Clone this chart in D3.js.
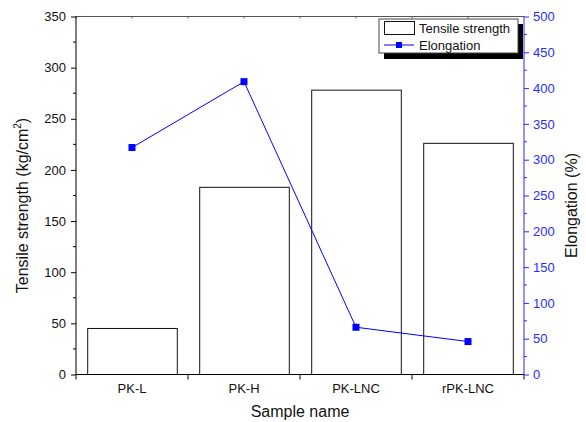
<!DOCTYPE html>
<html>
<head>
<meta charset="utf-8">
<script src="https://cdn.jsdelivr.net/npm/d3@7"></script>
<style>
  body { margin: 0; background: #fff; }
  svg { font-family: "Liberation Sans", Arial, sans-serif; }
</style>
</head>
<body>
<svg id="svg" width="586" height="422"></svg>
<script>
// values
var samples = ["PK-L", "PK-H", "PK-LNC", "rPK-LNC"];
var tensile = [45, 183, 278, 226];
var elongation = [317, 409, 66, 46];
var leftTicks = [0, 50, 100, 150, 200, 250, 300, 350];
var rightTicks = [0, 50, 100, 150, 200, 250, 300, 350, 400, 450, 500];

var blue = "#0000ff";
var axisBlue = "#2a2aff";

var plotLeft = 76, plotRight = 524, plotTop = 16.5, plotBottom = 374.5;

var svg = d3.select("#svg");

var x = d3.scaleBand().domain(samples).range([plotLeft, plotRight]).paddingInner(0).paddingOuter(0);
var yL = d3.scaleLinear().domain([0, 350]).range([plotBottom, plotTop]);
var yR = d3.scaleLinear().domain([0, 500]).range([plotBottom, plotTop]);

// bars
var barW = x.bandwidth() * 0.8;
svg.append("g").selectAll("rect")
    .data(samples)
    .enter()
    .append("rect")
    .attr("x", function(d) { return x(d) + (x.bandwidth() - barW) / 2 + 0.5; })
    .attr("y", function(d, i) { return yL(tensile[i]); })
    .attr("width", barW)
    .attr("height", function(d, i) { return plotBottom - yL(tensile[i]); })
    .attr("fill", "none")
    .attr("stroke", "#111")
    .attr("stroke-width", 1);

// top frame line with small ticks
svg.append("line")
    .attr("x1", plotLeft).attr("x2", plotRight)
    .attr("y1", plotTop).attr("y2", plotTop)
    .attr("stroke", "#555").attr("stroke-width", 1);
var topTicks = [];
samples.forEach(function(s) { topTicks.push(x(s)); topTicks.push(x(s) + x.bandwidth() / 2); });
svg.append("g").selectAll("line")
    .data(topTicks)
    .enter()
    .append("line")
    .attr("x1", function(d) { return d; }).attr("x2", function(d) { return d; })
    .attr("y1", plotTop).attr("y2", plotTop + 2)
    .attr("stroke", "#555");

// bottom axis
var xAxis = d3.axisBottom(x).tickSize(0).tickPadding(9);
var gx = svg.append("g")
    .attr("transform", "translate(0," + plotBottom + ")")
    .call(xAxis);
gx.select(".domain").attr("stroke", "#000").attr("d", "M" + plotLeft + ",0H" + plotRight);
gx.selectAll("text").attr("font-size", "13px").attr("fill", "#111");
var bounds = samples.map(function(s) { return x(s); }).concat([plotRight]);
gx.selectAll(".bnd")
    .data(bounds)
    .enter()
    .append("line")
    .attr("class", "bnd")
    .attr("x1", function(d) { return d; }).attr("x2", function(d) { return d; })
    .attr("y1", 0).attr("y2", 5)
    .attr("stroke", "#000");

// left axis
var yAxisL = d3.axisLeft(yL).tickValues(leftTicks).tickSize(5).tickPadding(5);
var gl = svg.append("g")
    .attr("transform", "translate(" + plotLeft + ",0)")
    .call(yAxisL);
gl.select(".domain").attr("d", "M0," + plotTop + "V" + plotBottom).attr("stroke", "#000");
gl.selectAll("text").attr("font-size", "13px").attr("fill", "#111");
gl.selectAll(".minor")
    .data(leftTicks.slice(0, -1).map(function(v) { return v + 25; }))
    .enter()
    .append("line")
    .attr("class", "minor")
    .attr("x1", 0).attr("x2", -3)
    .attr("y1", function(d) { return yL(d); }).attr("y2", function(d) { return yL(d); })
    .attr("stroke", "#000");

// right axis
var yAxisR = d3.axisRight(yR).tickValues(rightTicks).tickSize(5).tickPadding(4);
var gr = svg.append("g")
    .attr("transform", "translate(" + plotRight + ",0)")
    .call(yAxisR);
gr.select(".domain").attr("d", "M0," + plotTop + "V" + plotBottom).attr("stroke", axisBlue);
gr.selectAll(".tick line").attr("stroke", axisBlue);
gr.selectAll("text").attr("font-size", "13px").attr("fill", axisBlue);
gr.selectAll(".minor")
    .data(rightTicks.slice(0, -1).map(function(v) { return v + 25; }))
    .enter()
    .append("line")
    .attr("class", "minor")
    .attr("x1", 0).attr("x2", 3)
    .attr("y1", function(d) { return yR(d); }).attr("y2", function(d) { return yR(d); })
    .attr("stroke", axisBlue);

// elongation line
var line = d3.line()
    .x(function(d, i) { return x(samples[i]) + x.bandwidth() / 2; })
    .y(function(d) { return yR(d); });
svg.append("path")
    .datum(elongation)
    .attr("d", line)
    .attr("fill", "none")
    .attr("stroke", blue)
    .attr("stroke-width", 1);
svg.append("g").selectAll("rect")
    .data(elongation)
    .enter()
    .append("rect")
    .attr("x", function(d, i) { return x(samples[i]) + x.bandwidth() / 2 - 3.5; })
    .attr("y", function(d) { return yR(d) - 3.5; })
    .attr("width", 7)
    .attr("height", 7)
    .attr("fill", blue);

// axis titles
svg.append("text")
    .text("Sample name")
    .attr("x", (plotLeft + plotRight) / 2)
    .attr("y", 417)
    .attr("text-anchor", "middle")
    .attr("font-size", "16px")
    .attr("fill", "#111");

var tl = svg.append("text")
    .attr("transform", "translate(28," + ((plotTop + plotBottom) / 2 + 10) + ") rotate(-90)")
    .attr("text-anchor", "middle")
    .attr("font-size", "16px")
    .attr("fill", "#111");
tl.append("tspan").text("Tensile strength (kg/cm");
tl.append("tspan").text("2").attr("font-size", "10px").attr("dy", -7);
tl.append("tspan").text(")").attr("dy", 7);

svg.append("text")
    .text("Elongation (%)")
    .attr("transform", "translate(577," + ((plotTop + plotBottom) / 2 + 10) + ") rotate(-90)")
    .attr("text-anchor", "middle")
    .attr("font-size", "16px")
    .attr("fill", "#111");

// legend
var lg = svg.append("g").attr("transform", "translate(379,19)");
lg.append("rect").attr("x", 5).attr("y", 5).attr("width", 139).attr("height", 35).attr("fill", "#000");
lg.append("rect").attr("x", 0).attr("y", 0).attr("width", 139).attr("height", 34)
    .attr("fill", "#fff").attr("stroke", "#444").attr("stroke-width", 1);
lg.append("rect").attr("x", 5.5).attr("y", 2.5).attr("width", 30).attr("height", 13)
    .attr("fill", "none").attr("stroke", "#111");
lg.append("text").text("Tensile strength").attr("x", 40).attr("y", 14)
    .attr("font-size", "13px").attr("fill", "#111");
lg.append("line").attr("x1", 5).attr("x2", 35).attr("y1", 26).attr("y2", 26)
    .attr("stroke", blue);
lg.append("rect").attr("x", 17).attr("y", 23).attr("width", 6).attr("height", 6).attr("fill", blue);
lg.append("text").text("Elongation").attr("x", 40).attr("y", 31)
    .attr("font-size", "13px").attr("fill", "#111");
</script>
</body>
</html>
